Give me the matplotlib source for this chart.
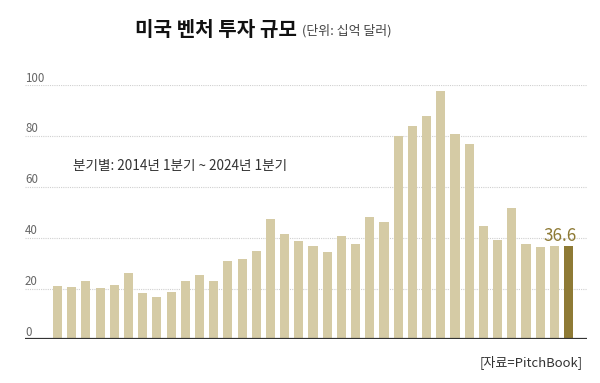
import matplotlib
matplotlib.use("Agg")
import matplotlib.pyplot as plt

plt.rcParams['font.family'] = ['Noto Sans CJK KR', 'DejaVu Sans']

values = [21.1, 20.7, 23.1, 20.2, 21.4, 26.0, 18.1, 16.7, 18.5, 22.8,
          25.2, 22.8, 31.0, 31.6, 34.8, 47.5, 41.3, 38.6, 36.9, 34.2,
          40.7, 37.6, 48.0, 46.2, 80.0, 83.8, 87.9, 97.8, 80.8, 77.0,
          44.7, 39.1, 51.7, 37.6, 36.3, 36.9, 36.6]
yticks = [0, 20, 40, 60, 80, 100]
title = "미국 벤처 투자 규모"
unit = "(단위: 십억 달러)"
note = "분기별: 2014년 1분기 ~ 2024년 1분기"
source = "[자료=PitchBook]"
last_label = "36.6"

light = "#d5cba5"
dark = "#8e7a35"

W, H = 600, 383
fig = plt.figure(figsize=(W / 100, H / 100), dpi=100)
ax = fig.add_axes([25 / W, (H - 339.3) / H, (587 - 25) / W, (339.3 - 85.3) / H])

x = list(range(len(values)))
colors = [light] * (len(values) - 1) + [dark]
ax.bar(x, values, width=0.64, color=colors, zorder=3)

ax.set_ylim(0, 100)
ax.set_xlim(-2.29, len(values) - 1 + 1.3)

for t in yticks[1:]:
    ax.axhline(t, color="#d0d0d0", lw=0.8, ls=(0, (1, 1)), zorder=1)
ax.axhline(0, color="#333333", lw=1.6, zorder=4)

for t in yticks:
    ax.annotate(str(t), xy=(0, t), xycoords=("axes fraction", "data"),
                xytext=(0, 0.5), textcoords="offset points",
                ha="left", va="bottom", fontsize=8.3, color="#666666")

ax.set_xticks([])
ax.set_yticks([])
for s in ax.spines.values():
    s.set_visible(False)

ax.annotate(last_label, xy=(x[-1], values[-1]), xytext=(-6, 1),
            textcoords="offset points", ha="center", va="bottom",
            fontsize=12.3, color=dark)

fig.text(297 / W, 1 - 30 / H, title, ha="right", va="center",
         fontsize=14.5, fontweight="bold", color="#111111")
fig.text(302 / W, 1 - 31 / H, unit, ha="left", va="center",
         fontsize=9.3, color="#444444")
fig.text(73 / W, 1 - 166 / H, note, ha="left", va="center",
         fontsize=9.8, color="#333333")
fig.text(583 / W, 1 - 362 / H, source, ha="right", va="center",
         fontsize=9.4, color="#333333")

fig.savefig("out.png", dpi=100, facecolor="white")
